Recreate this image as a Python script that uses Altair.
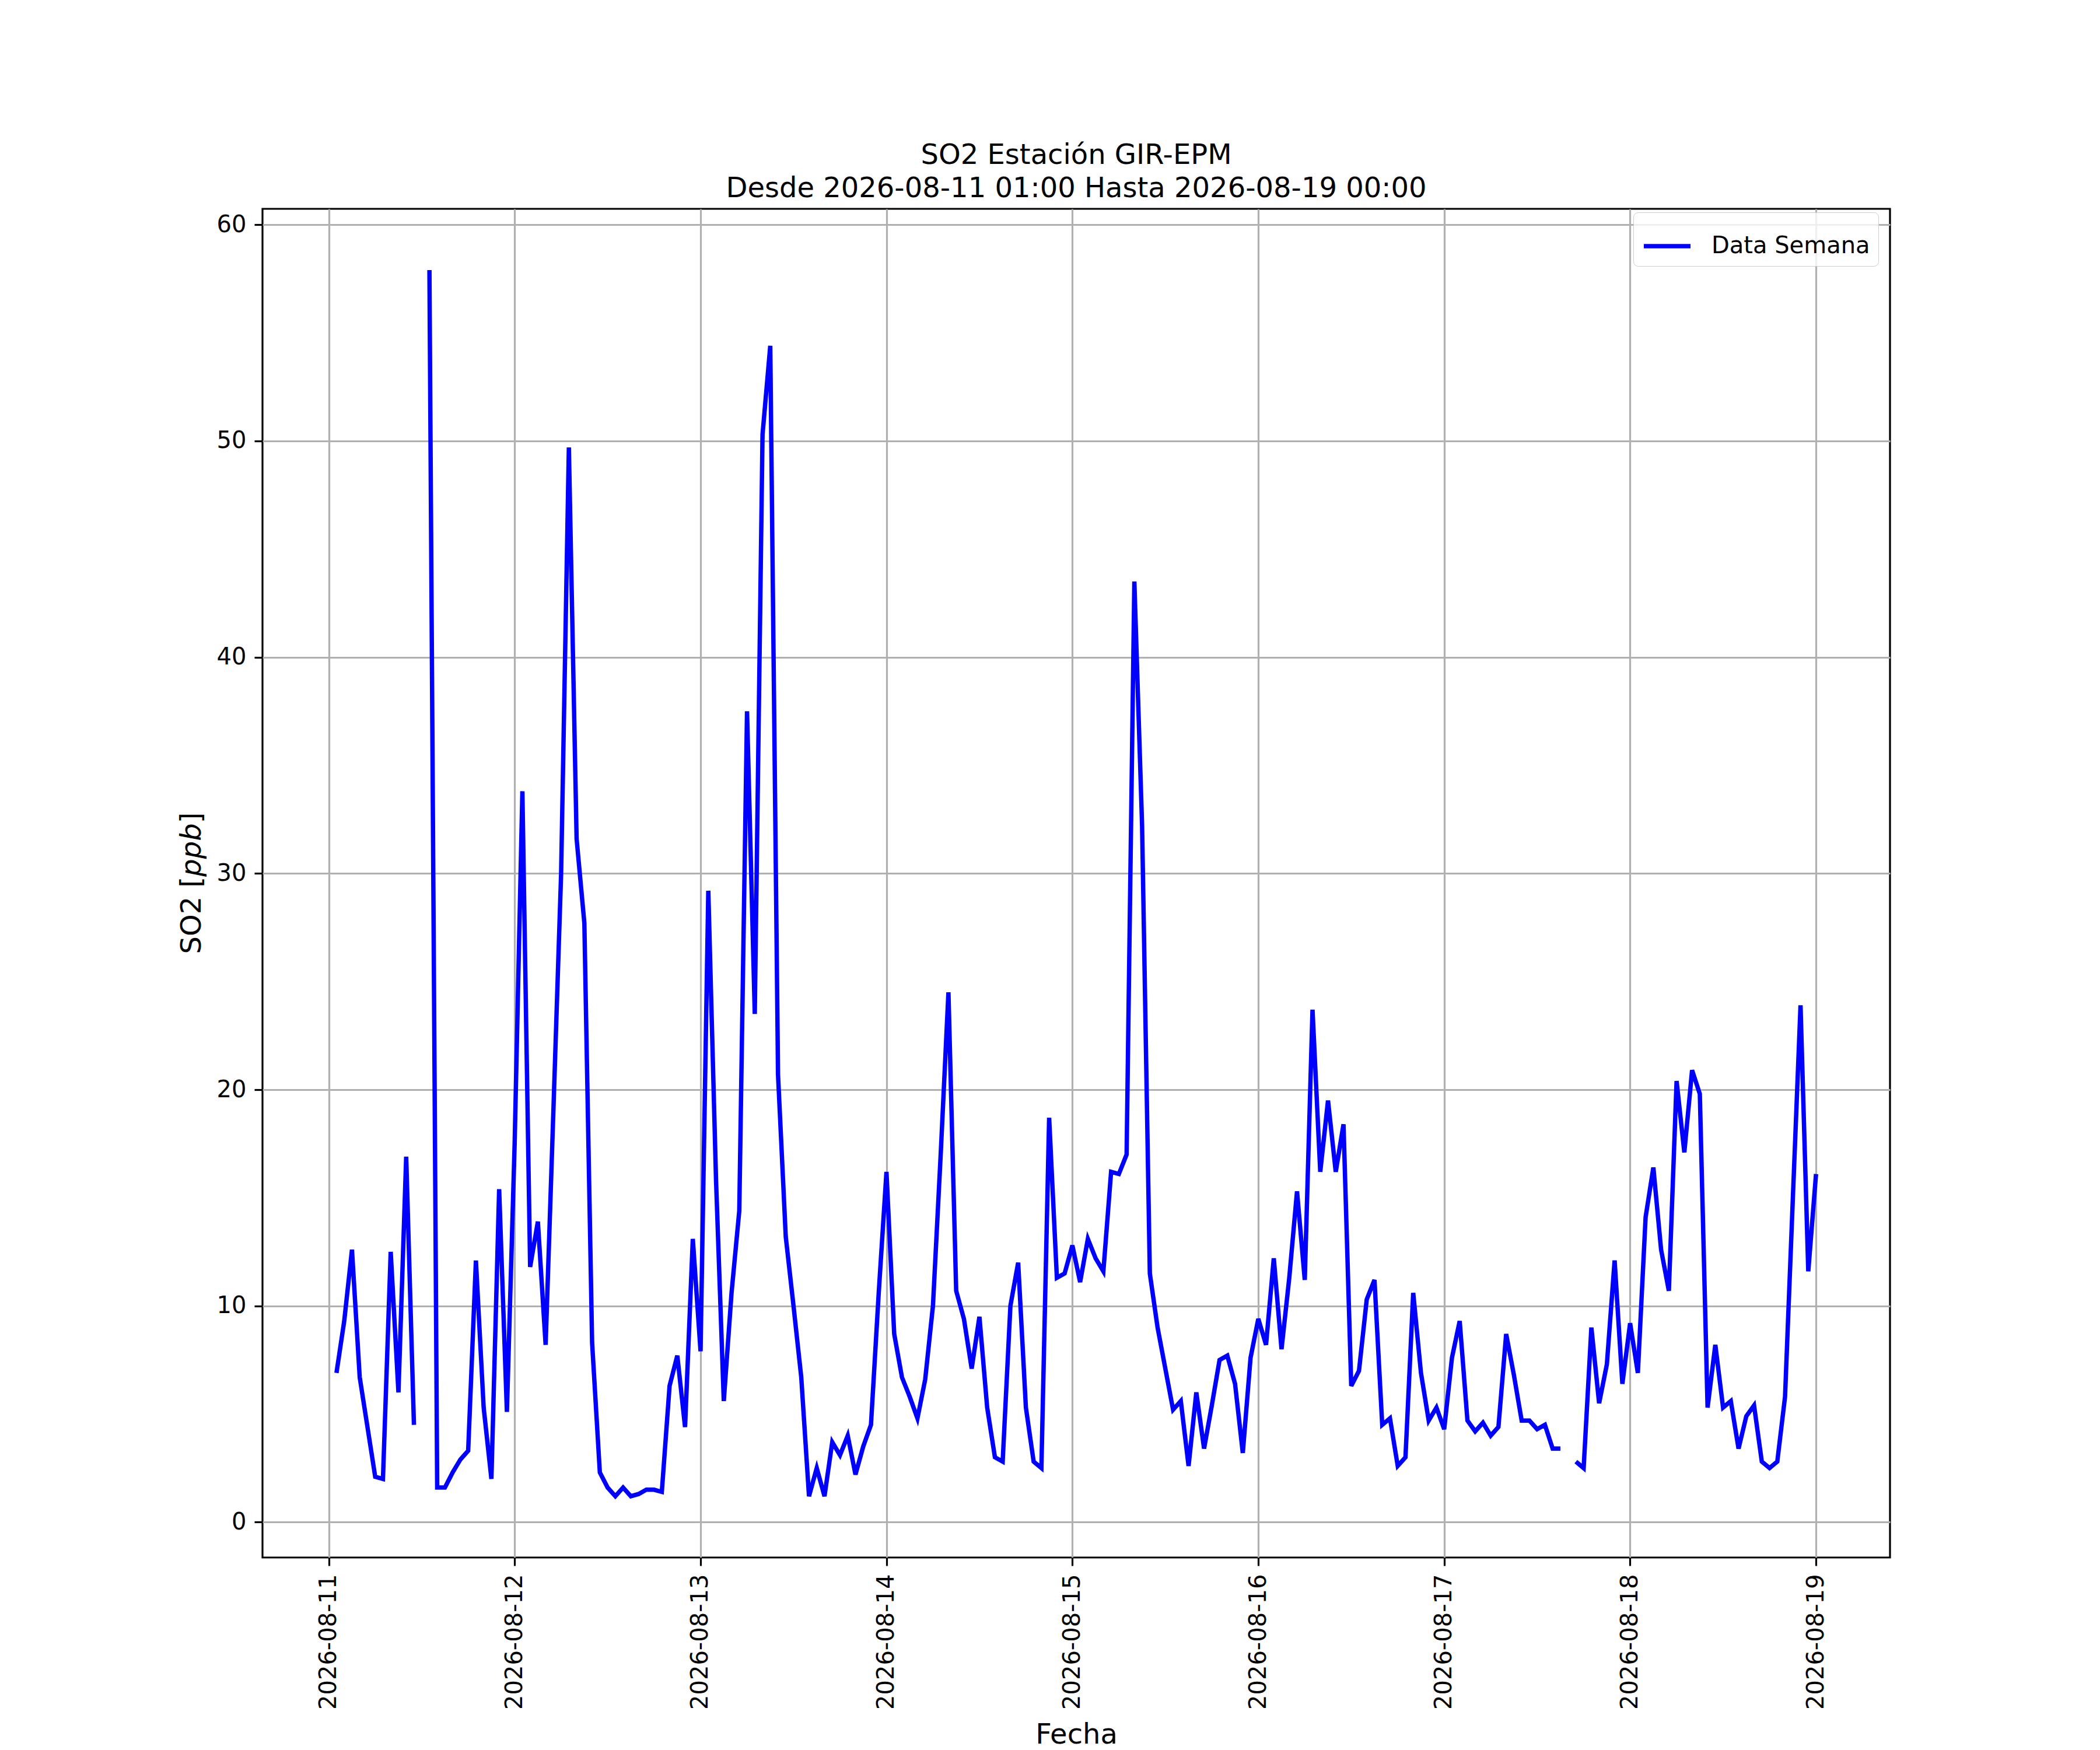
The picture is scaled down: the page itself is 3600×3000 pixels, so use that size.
import altair as alt
import pandas as pd

FONT = "DejaVu Sans"

# Hourly SO2 readings (ppb), 2026-08-11 01:00 .. 2026-08-19 00:00 ; None = missing
so2_d11 = [6.9, 9.3, 12.6, 6.7, 4.4, 2.1, 2.0, 12.5, 6.0, 16.9, 4.5, None,
           57.9, 1.6, 1.6, 2.3, 2.9, 3.3, 12.1, 5.3, 2.0, 15.4, 5.1]          # 01..23
so2_d12 = [17.5, 33.8, 11.8, 13.9, 8.2, 19.0, 30.0, 49.7, 31.6, 27.7, 8.3, 2.3,
           1.6, 1.2, 1.6, 1.2, 1.3, 1.5, 1.5, 1.4, 6.3, 7.7, 4.4, 13.1]
so2_d13 = [7.9, 29.2, 15.8, 5.6, 10.6, 14.4, 37.5, 23.5, 50.3, 54.4, 20.7, 13.2,
           10.0, 6.7, 1.2, 2.5, 1.2, 3.7, 3.1, 4.0, 2.2, 3.5, 4.5, 10.6]
so2_d14 = [16.2, 8.7, 6.7, 5.8, 4.8, 6.6, 10.0, 17.0, 24.5, 10.7, 9.4, 7.1,
           9.5, 5.3, 3.0, 2.8, 10.0, 12.0, 5.3, 2.8, 2.5, 18.7, 11.3, 11.5]
so2_d15 = [12.8, 11.1, 13.1, 12.2, 11.6, 16.2, 16.1, 17.0, 43.5, 32.2, 11.5, 9.0,
           7.1, 5.2, 5.6, 2.6, 6.0, 3.4, 5.4, 7.5, 7.7, 6.4, 3.2, 7.6]
so2_d16 = [9.4, 8.2, 12.2, 8.0, 11.3, 15.3, 11.2, 23.7, 16.2, 19.5, 16.2, 18.4,
           6.3, 7.0, 10.3, 11.2, 4.5, 4.8, 2.6, 3.0, 10.6, 6.9, 4.7, 5.3]
so2_d17 = [4.3, 7.6, 9.3, 4.7, 4.2, 4.6, 4.0, 4.4, 8.7, 6.8, 4.7, 4.7,
           4.3, 4.5, 3.4, 3.4, None, 2.8, 2.5, 9.0, 5.5, 7.3, 12.1, 6.4]
so2_d18 = [9.2, 6.9, 14.1, 16.4, 12.6, 10.7, 20.4, 17.1, 20.9, 19.8, 5.3, 8.2,
           5.3, 5.6, 3.4, 4.9, 5.4, 2.8, 2.5, 2.8, 5.8, 14.9, 23.9, 11.6]
so2_d19 = [16.1]                                                              # 00:00

start_time = "2026-08-11 01:00"
end_time = "2026-08-19 00:00"
tick_days = [11, 12, 13, 14, 15, 16, 17, 18, 19]
y_ticks = [0, 10, 20, 30, 40, 50, 60]
series_name = "Data Semana"
title_lines = ["SO2 Estación GIR-EPM", "Desde 2026-08-11 01:00 Hasta 2026-08-19 00:00"]
ylabel_parts = ["SO2 [", "ppb", "]"]   # "ppb" drawn in italic, as in the reference

values = (so2_d11 + so2_d12 + so2_d13 + so2_d14 + so2_d15 + so2_d16
          + so2_d17 + so2_d18 + so2_d19)
times = pd.date_range(start_time, end_time, freq="h")
df = pd.DataFrame({
    "fecha": [t.strftime("%Y-%m-%dT%H:%M:%S") for t in times],
    "so2": values,
    "serie": [series_name] * len(values),
})

W, H = 2790, 2312
FS_LABEL = 48

x_axis = alt.Axis(
    values=[alt.DateTime(year=2026, month=8, date=d) for d in tick_days],
    format="%Y-%m-%d", labelAngle=270, labelAlign="right", labelBaseline="middle",
    labelFontSize=40, labelFont=FONT, labelColor="black", labelPadding=14,
    labelOverlap=False, labelFlush=False, labelBound=False, labelLimit=0,
    tickSize=14, tickWidth=3.2, tickColor="black",
    domain=False, grid=True, gridColor="#b0b0b0", gridWidth=3.2,
    title="Fecha", titleFont=FONT, titleFontSize=FS_LABEL, titleFontWeight="normal",
    titleColor="black", titleX=W / 2, titleY=318, titleAlign="center",
    titleBaseline="alphabetic",
)
y_axis = alt.Axis(
    values=y_ticks, format="d", title=None,
    labelFontSize=40, labelFont=FONT, labelColor="black", labelPadding=14,
    labelFlush=False, labelOverlap=False, labelLimit=0,
    tickSize=14, tickWidth=3.2, tickColor="black",
    domain=False, grid=True, gridColor="#b0b0b0", gridWidth=3.2,
)

line = alt.Chart(df).mark_line(strokeWidth=7.5).encode(
    x=alt.X("fecha:T",
            scale=alt.Scale(domain=[alt.DateTime(year=2026, month=8, date=10, hours=15, minutes=27),
                                    alt.DateTime(year=2026, month=8, date=19, hours=9, minutes=33)]),
            axis=x_axis),
    y=alt.Y("so2:Q", scale=alt.Scale(domain=[-1.635, 60.735], nice=False, zero=False),
            axis=y_axis),
    color=alt.Color("serie:N", scale=alt.Scale(range=["#0000ff"]),
                    legend=alt.Legend(title=None, orient="none", legendX=2350, legendY=6,
                                      padding=14, strokeColor="#cccccc", cornerRadius=8,
                                      fillColor="rgba(255,255,255,0.8)",
                                      labelFontSize=40, labelFont=FONT, labelColor="black",
                                      labelOffset=32, labelLimit=0, symbolType="stroke",
                                      symbolSize=6400, symbolStrokeWidth=7.5)),
)

# y-axis label in three pieces so that "ppb" can be italic (reading bottom-to-top)
em = FS_LABEL
w_part1 = 2.766 * em   # "SO2 ["
w_part2 = 1.905 * em   # "ppb"
w_part3 = 0.390 * em   # "]"
y_start = H / 2 + (w_part1 + w_part2 + w_part3) / 2
label_x = -106
piece_pos = [y_start, y_start - w_part1, y_start - w_part1 - w_part2]
piece_style = ["normal", "italic", "normal"]

ylabel_layers = []
for txt, ypos, style in zip(ylabel_parts, piece_pos, piece_style):
    ylabel_layers.append(
        alt.Chart(alt.Data(values=[{"t": txt}])).mark_text(
            angle=270, align="left", baseline="alphabetic", font=FONT,
            fontSize=FS_LABEL, fontStyle=style, color="black",
        ).encode(text="t:N", x=alt.value(label_x), y=alt.value(ypos))
    )

chart = alt.layer(line, *ylabel_layers).properties(
    width=W, height=H,
    title=alt.TitleParams(text=title_lines, font=FONT, fontSize=48, fontWeight="normal",
                          color="black", anchor="middle", frame="group", offset=14,
                          dy=52, baseline="bottom", lineHeight=57),
    autosize=alt.AutoSizeParams(type="none"),
    padding={"left": 442, "top": 350, "right": 352, "bottom": 330},
).configure(
    background="white",
    view=alt.ViewConfig(stroke="black", strokeWidth=3.2),
)

chart.save("out.html", embed_options={"renderer": "svg", "actions": False})
